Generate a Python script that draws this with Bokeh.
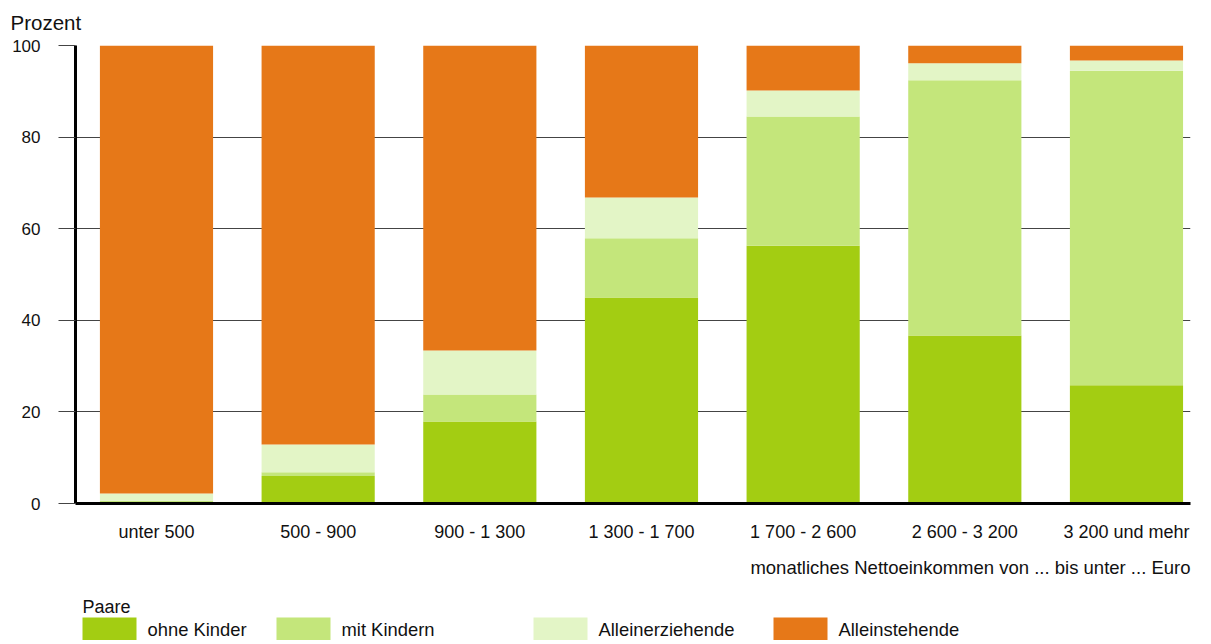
from bokeh.plotting import figure
from bokeh.models import ColumnDataSource, Range1d, FixedTicker, Title
from bokeh.layouts import column
from bokeh.embed import file_html
from bokeh.resources import INLINE
from bokeh.core.properties import value

categories = ["unter 500", "500 - 900", "900 - 1 300", "1 300 - 1 700",
              "1 700 - 2 600", "2 600 - 3 200", "3 200 und mehr"]
ohne_kinder = [0.3, 6.0, 17.9, 45.0, 56.3, 36.7, 25.8]
mit_kindern = [0.3, 0.8, 5.9, 12.9, 28.2, 55.7, 68.7]
alleinerziehende = [1.6, 6.1, 9.6, 8.9, 5.7, 3.7, 2.2]
alleinstehende = [97.8, 87.1, 66.6, 33.2, 9.8, 3.9, 3.3]
series_names = ["ohne Kinder", "mit Kindern", "Alleinerziehende", "Alleinstehende"]
colors = ["#A3CD12", "#C4E67B", "#E3F5C6", "#E67818"]
y_ticks = [0, 20, 40, 60, 80, 100]

FONT = "Liberation Sans"
TXT = "#111111"
idx = list(range(len(categories)))

src = ColumnDataSource(dict(x=idx, **{
    series_names[0]: ohne_kinder,
    series_names[1]: mit_kindern,
    series_names[2]: alleinerziehende,
    series_names[3]: alleinstehende,
}))

W = 1200
p = figure(width=W, height=590, output_backend="svg", toolbar_location=None,
           x_range=Range1d(-0.501, 6.396), y_range=Range1d(0, 100),
           min_border_left=75, min_border_right=10, min_border_top=45,
           min_border_bottom=87)
p.outline_line_color = None

p.vbar_stack(series_names, x="x", width=0.7, color=colors, line_color=None, source=src)

# y axis
ya = p.yaxis[0]
ya.ticker = FixedTicker(ticks=y_ticks)
ya.axis_line_color = "black"
ya.axis_line_width = 3
ya.major_tick_out = 17
ya.major_tick_in = 0
ya.major_tick_line_color = "#444444"
ya.minor_tick_line_color = None
ya.major_label_standoff = 18
ya.major_label_text_font = FONT
ya.major_label_text_font_size = "17px"
ya.major_label_text_color = TXT

# x axis
xa = p.xaxis[0]
xa.ticker = FixedTicker(ticks=idx)
xa.major_label_overrides = {i: c for i, c in zip(idx, categories)}
xa.axis_line_color = "black"
xa.axis_line_width = 3
xa.major_tick_line_color = None
xa.minor_tick_line_color = None
xa.major_label_standoff = 12
xa.major_label_text_font = FONT
xa.major_label_text_font_size = "18px"
xa.major_label_text_color = TXT

p.xgrid.grid_line_color = None
p.ygrid.ticker = FixedTicker(ticks=y_ticks)
p.ygrid.grid_line_color = "#444444"
p.ygrid.grid_line_width = 1

p.add_layout(Title(text="Prozent", align="left", offset=-65, standoff=20,
                   vertical_align="top",
                   text_font=FONT, text_font_size="20.5px", text_font_style="normal",
                   text_color=TXT), "above")
p.add_layout(Title(text="monatliches Nettoeinkommen von ... bis unter ... Euro",
                   align="right", standoff=20, text_font=FONT,
                   text_font_size="18.5px", text_font_style="normal",
                   text_color=TXT), "below")

# legend panel (x in page pixels, aligned with the main frame 75..1190)
leg_left = [82, 276, 533, 773]
leg = figure(width=W, height=50, output_backend="svg", toolbar_location=None,
             x_range=Range1d(75, 1190), y_range=Range1d(50, 0),
             min_border_left=75, min_border_right=10,
             min_border_top=0, min_border_bottom=0)
leg.axis.visible = False
leg.grid.visible = False
leg.outline_line_color = None
lsrc = ColumnDataSource(dict(left=leg_left, right=[l + 54 for l in leg_left],
                             top=[27] * 4, bottom=[50] * 4, color=colors,
                             tx=[l + 65 for l in leg_left], ty=[38.5] * 4,
                             name=series_names))
leg.quad(left="left", right="right", top="top", bottom="bottom", color="color",
         line_color=None, source=lsrc)
leg.text(x="tx", y="ty", text="name", source=lsrc, text_font=value(FONT),
         text_font_size="18.4px", text_baseline="middle", text_align="left",
         text_color=TXT)
leg.text(x=[leg_left[0]], y=[16], text=["Paare"], text_font=value(FONT),
         text_font_size="18px", text_baseline="middle", text_align="left",
         text_color=TXT)

layout = column(p, leg, spacing=0)
open("out.html", "w").write(file_html(layout, INLINE))
